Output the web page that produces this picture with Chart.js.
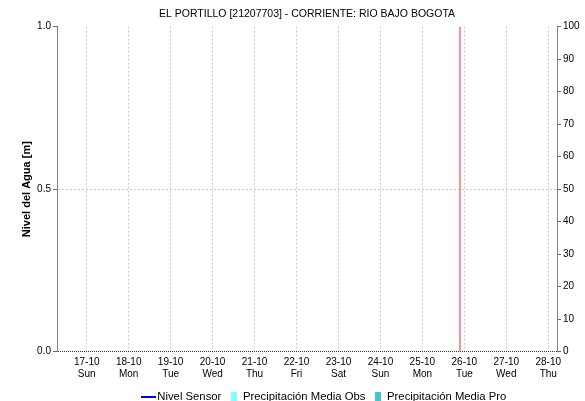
<!DOCTYPE html>
<html lang="es">
<head>
<meta charset="UTF-8">
<title>EL PORTILLO [21207703] - CORRIENTE: RIO BAJO BOGOTA</title>
<style>
  html, body { margin: 0; padding: 0; background: #fff; }
  #wrap { width: 585px; height: 401px; }
</style>
</head>
<body>
<div id="wrap"><canvas id="chart"></canvas></div>
<script src="https://cdn.jsdelivr.net/npm/chart.js"></script>
<script>
// eje x en horas contadas desde el 17-10 00:00
const dayTicks = [0, 24, 48, 72, 96, 120, 144, 168, 192, 216, 240, 264];
const dayLabels = ['17-10', '18-10', '19-10', '20-10', '21-10', '22-10', '23-10', '24-10', '25-10', '26-10', '27-10', '28-10'];
const weekDays = ['Sun', 'Mon', 'Tue', 'Wed', 'Thu', 'Fri', 'Sat', 'Sun', 'Mon', 'Tue', 'Wed', 'Thu'];
const xRange = [-17, 269];

const nivelTicks = [0, 0.5, 1];
// sin datos en el periodo
const nivelSensor = [];
const precipObs = [];
const precipPro = [];

// linea roja de la hora actual (25-10 ~21:30)
const ahoraX = [213.5, 213.5];
const ahoraY = [0, 1];

function icon(w, h, color) {
    const c = document.createElement('canvas');
    c.width = w; c.height = h;
    const g = c.getContext('2d');
    g.fillStyle = color;
    g.fillRect(0, 0, w, h);
    return c;
}

const legendItems = [
    { text: 'Nivel Sensor', pointStyle: icon(15, 2, '#0000ff') },
    { text: 'Precipitación Media Obs', pointStyle: icon(6, 11, '#80ffff') },
    { text: 'Precipitación Media Pro', pointStyle: icon(6, 11, '#40c8c8') }
];

// la leyenda del original va algo corrida a la derecha
const moverLeyenda = {
    id: 'moverLeyenda',
    afterLayout(chart) {
        chart.legend.left += 19;
        chart.legend.right += 19;
    }
};

const ctx = document.getElementById('chart').getContext('2d');

new Chart(ctx, {
    type: 'line',
    data: {
        datasets: [
            { label: 'Nivel Sensor', data: nivelSensor, borderColor: '#0000ff', borderWidth: 1, pointRadius: 0, yAxisID: 'y' },
            { type: 'bar', label: 'Precipitación Media Obs', data: precipObs, backgroundColor: '#80ffff', yAxisID: 'y1' },
            { type: 'bar', label: 'Precipitación Media Pro', data: precipPro, backgroundColor: '#40c8c8', yAxisID: 'y1' },
            {
                label: 'ahora',
                data: ahoraX.map((x, i) => ({ x: x, y: ahoraY[i] })),
                borderColor: '#dd3333', borderWidth: 1, pointRadius: 0, yAxisID: 'y'
            }
        ]
    },
    plugins: [moverLeyenda],
    options: {
        responsive: true,
        maintainAspectRatio: false,
        animation: false,
        layout: { padding: { bottom: -12 } },
        plugins: {
            title: {
                display: true,
                fullSize: false,
                text: 'EL PORTILLO [21207703] - CORRIENTE: RIO BAJO BOGOTA',
                color: '#000',
                font: { family: 'Liberation Sans, Arial', size: 10.5, weight: 'normal' },
                padding: { top: 8, bottom: 6 }
            },
            legend: {
                position: 'bottom',
                fullSize: false,
                labels: {
                    usePointStyle: true,
                    boxWidth: 6,
                    color: '#000',
                    font: { family: 'Liberation Sans, Arial', size: 11.3 },
                    padding: 10,
                    generateLabels: () => legendItems.map((it, i) => ({
                        text: it.text, pointStyle: it.pointStyle, datasetIndex: i,
                        fillStyle: 'transparent', strokeStyle: 'transparent', lineWidth: 0, hidden: false
                    }))
                }
            },
            tooltip: { enabled: false }
        },
        scales: {
            x: {
                type: 'linear',
                offset: false,
                min: xRange[0],
                max: xRange[1],
                afterBuildTicks: s => { s.ticks = dayTicks.map(v => ({ value: v })); },
                afterFit: s => { s.height = 30; },
                ticks: {
                    autoSkip: false,
                    maxRotation: 0,
                    padding: 5,
                    color: '#000',
                    font: { family: 'Liberation Sans, Arial', size: 10 },
                    callback: v => {
                        const i = dayTicks.indexOf(v);
                        return [dayLabels[i], weekDays[i]];
                    }
                },
                grid: { color: '#c8c8c8', drawTicks: false, offset: false },
                border: { display: false, dash: [2, 2] }
            },
            y: {
                position: 'left',
                min: 0,
                max: 1,
                afterBuildTicks: s => { s.ticks = nivelTicks.map(v => ({ value: v })); },
                afterFit: s => { s.width = 57; },
                title: {
                    display: true,
                    text: 'Nivel del Agua [m]',
                    color: '#000',
                    font: { family: 'Liberation Sans, Arial', size: 11, weight: 'bold' },
                    padding: { top: 20, bottom: 0 }
                },
                ticks: {
                    padding: 2,
                    color: '#000',
                    font: { family: 'Liberation Sans, Arial', size: 10 },
                    callback: v => v.toFixed(1)
                },
                grid: {
                    color: c => c.tick && c.tick.value === 0 ? '#333' : (c.tick && c.tick.value === 0.5 ? '#c8c8c8' : 'rgba(0,0,0,0)'),
                    tickColor: '#666',
                    tickLength: 4
                },
                border: {
                    color: '#808080',
                    dash: c => c.tick && c.tick.value === 0 ? [1, 1] : [2, 2]
                }
            },
            y1: {
                position: 'right',
                min: 0,
                max: 100,
                afterFit: s => { s.width = 28; },
                ticks: {
                    stepSize: 10,
                    padding: 2,
                    color: '#000',
                    font: { family: 'Liberation Sans, Arial', size: 10 }
                },
                grid: { drawOnChartArea: false, tickColor: '#666', tickLength: 4 },
                border: { color: '#808080' }
            }
        }
    }
});
</script>
</body>
</html>
